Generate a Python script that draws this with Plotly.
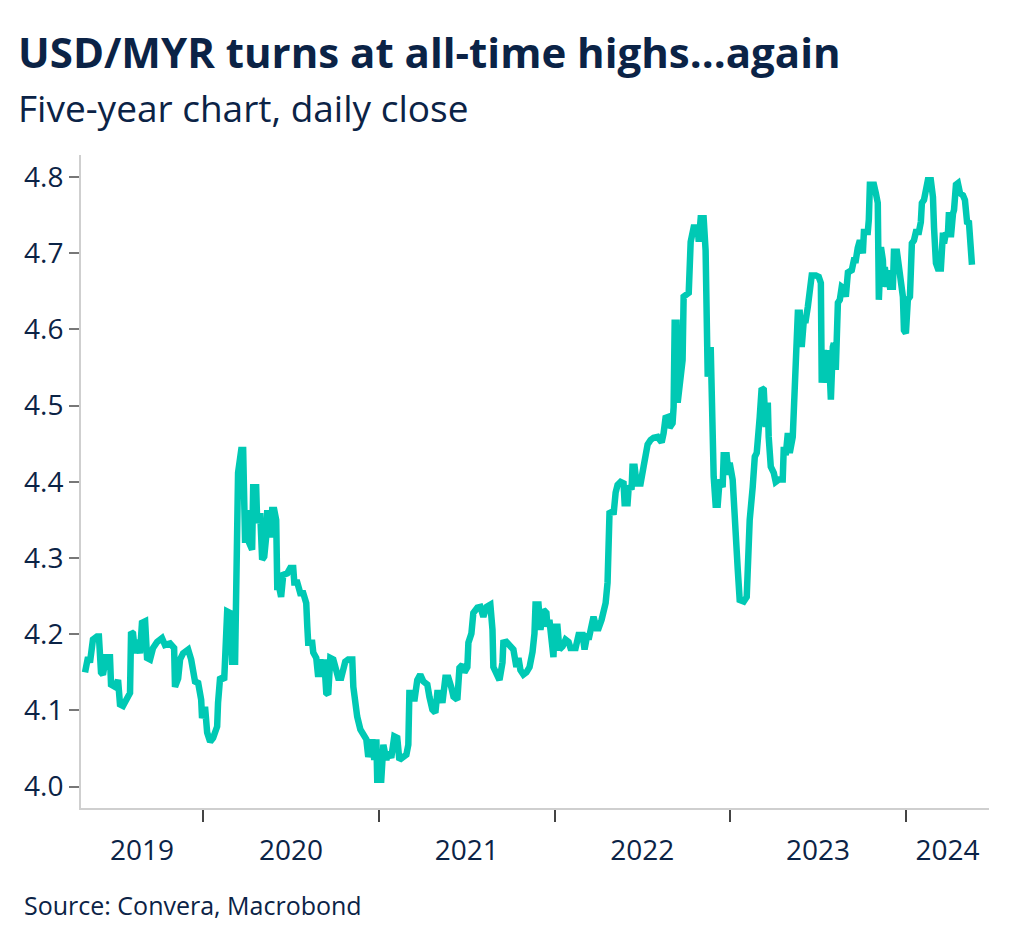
import plotly.graph_objects as go

# USD/MYR daily close (x in decimal years)
years = [
    2019.328, 2019.345, 2019.356, 2019.373, 2019.396, 2019.407, 2019.419, 2019.430, 2019.447, 2019.470,
    2019.476, 2019.499, 2019.516, 2019.527, 2019.544, 2019.567, 2019.584, 2019.590, 2019.601, 2019.613,
    2019.624, 2019.641, 2019.652, 2019.670, 2019.681, 2019.698, 2019.715, 2019.738, 2019.766, 2019.783,
    2019.812, 2019.835, 2019.840, 2019.858, 2019.869, 2019.886, 2019.915, 2019.932, 2019.943, 2019.954,
    2019.972, 2019.989, 2019.994, 2020.011, 2020.023, 2020.040, 2020.057, 2020.080, 2020.085, 2020.097,
    2020.120, 2020.137, 2020.154, 2020.165, 2020.182, 2020.188, 2020.199, 2020.217, 2020.228, 2020.239,
    2020.251, 2020.262, 2020.279, 2020.285, 2020.302, 2020.308, 2020.325, 2020.336, 2020.348, 2020.359,
    2020.365, 2020.382, 2020.393, 2020.405, 2020.416, 2020.422, 2020.433, 2020.444, 2020.456, 2020.479,
    2020.496, 2020.513, 2020.519, 2020.536, 2020.553, 2020.570, 2020.587, 2020.593, 2020.598, 2020.621,
    2020.627, 2020.644, 2020.655, 2020.667, 2020.678, 2020.689, 2020.701, 2020.712, 2020.724, 2020.741,
    2020.758, 2020.769, 2020.786, 2020.798, 2020.809, 2020.826, 2020.849, 2020.855, 2020.866, 2020.877,
    2020.895, 2020.912, 2020.929, 2020.940, 2020.963, 2020.974, 2020.986, 2020.991, 2021.014, 2021.026,
    2021.043, 2021.054, 2021.071, 2021.088, 2021.105, 2021.117, 2021.140, 2021.157, 2021.168, 2021.174,
    2021.197, 2021.202, 2021.219, 2021.236, 2021.254, 2021.276, 2021.288, 2021.305, 2021.322, 2021.333,
    2021.350, 2021.362, 2021.379, 2021.396, 2021.413, 2021.425, 2021.447, 2021.459, 2021.476, 2021.487,
    2021.504, 2021.510, 2021.527, 2021.538, 2021.561, 2021.578, 2021.595, 2021.613, 2021.635, 2021.647,
    2021.652, 2021.670, 2021.687, 2021.704, 2021.709, 2021.726, 2021.738, 2021.755, 2021.766, 2021.783,
    2021.795, 2021.806, 2021.823, 2021.840, 2021.858, 2021.875, 2021.886, 2021.892, 2021.909, 2021.920,
    2021.937, 2021.954, 2021.960, 2021.971, 2021.983, 2021.994, 2022.000, 2022.017, 2022.028, 2022.046,
    2022.063, 2022.080, 2022.091, 2022.120, 2022.137, 2022.160, 2022.171, 2022.188, 2022.194, 2022.211,
    2022.222, 2022.239, 2022.251, 2022.268, 2022.279, 2022.291, 2022.302, 2022.308, 2022.313, 2022.330,
    2022.336, 2022.348, 2022.359, 2022.376, 2022.393, 2022.399, 2022.416, 2022.422, 2022.439, 2022.444,
    2022.456, 2022.467, 2022.490, 2022.507, 2022.519, 2022.530, 2022.547, 2022.564, 2022.587, 2022.610,
    2022.621, 2022.632, 2022.644, 2022.655, 2022.672, 2022.678, 2022.684, 2022.695, 2022.701, 2022.712,
    2022.729, 2022.735, 2022.752, 2022.764, 2022.775, 2022.792, 2022.815, 2022.821, 2022.832, 2022.849,
    2022.860, 2022.866, 2022.872, 2022.889, 2022.895, 2022.900, 2022.906, 2022.917, 2022.929, 2022.940,
    2022.957, 2022.963, 2022.980, 2022.991, 2022.997, 2023.014, 2023.020, 2023.031, 2023.043, 2023.054,
    2023.077, 2023.094, 2023.100, 2023.111, 2023.128, 2023.140, 2023.151, 2023.157, 2023.168, 2023.179,
    2023.191, 2023.202, 2023.214, 2023.219, 2023.231, 2023.248, 2023.259, 2023.276, 2023.299, 2023.305,
    2023.316, 2023.328, 2023.339, 2023.356, 2023.362, 2023.373, 2023.385, 2023.396, 2023.407, 2023.419,
    2023.430, 2023.442, 2023.453, 2023.464, 2023.487, 2023.504, 2023.516, 2023.521, 2023.533, 2023.550,
    2023.561, 2023.573, 2023.584, 2023.590, 2023.601, 2023.613, 2023.624, 2023.635, 2023.647, 2023.658,
    2023.670, 2023.692, 2023.704, 2023.715, 2023.726, 2023.738, 2023.755, 2023.761, 2023.783, 2023.789,
    2023.795, 2023.818, 2023.829, 2023.840, 2023.846, 2023.858, 2023.869, 2023.875, 2023.880, 2023.892,
    2023.897, 2023.909, 2023.926, 2023.932, 2023.949, 2023.960, 2023.972, 2023.983, 2023.989, 2024.000,
    2024.011, 2024.023, 2024.034, 2024.046, 2024.057, 2024.074, 2024.085, 2024.091, 2024.103, 2024.114,
    2024.125, 2024.142, 2024.154, 2024.160, 2024.171, 2024.182, 2024.199, 2024.211, 2024.217, 2024.228,
    2024.239, 2024.245, 2024.256, 2024.268, 2024.274, 2024.285, 2024.296, 2024.308, 2024.325, 2024.336,
    2024.348, 2024.359, 2024.370, 2024.376,
]
usdmyr = [
    4.150, 4.170, 4.163, 4.193, 4.197, 4.197, 4.150, 4.147, 4.170, 4.170,
    4.134, 4.131, 4.140, 4.108, 4.106, 4.114, 4.123, 4.203, 4.201, 4.175,
    4.193, 4.175, 4.215, 4.217, 4.169, 4.167, 4.182, 4.190, 4.195, 4.186,
    4.188, 4.182, 4.131, 4.142, 4.167, 4.175, 4.180, 4.167, 4.154, 4.138,
    4.136, 4.114, 4.090, 4.105, 4.071, 4.059, 4.064, 4.079, 4.110, 4.144,
    4.140, 4.230, 4.228, 4.164, 4.164, 4.280, 4.412, 4.442, 4.442, 4.320,
    4.363, 4.320, 4.311, 4.393, 4.393, 4.346, 4.359, 4.298, 4.302, 4.328,
    4.363, 4.327, 4.363, 4.363, 4.350, 4.262, 4.262, 4.249, 4.278, 4.280,
    4.287, 4.287, 4.268, 4.268, 4.254, 4.254, 4.241, 4.210, 4.189, 4.189,
    4.176, 4.169, 4.144, 4.167, 4.144, 4.167, 4.123, 4.121, 4.169, 4.167,
    4.156, 4.143, 4.143, 4.154, 4.164, 4.167, 4.167, 4.131, 4.110, 4.092,
    4.075, 4.066, 4.062, 4.039, 4.062, 4.035, 4.062, 4.009, 4.009, 4.055,
    4.035, 4.046, 4.038, 4.066, 4.064, 4.035, 4.039, 4.042, 4.055, 4.123,
    4.123, 4.112, 4.140, 4.147, 4.138, 4.134, 4.118, 4.101, 4.097, 4.123,
    4.123, 4.110, 4.143, 4.143, 4.130, 4.118, 4.114, 4.156, 4.160, 4.150,
    4.157, 4.189, 4.201, 4.228, 4.235, 4.236, 4.223, 4.236, 4.239, 4.206,
    4.157, 4.150, 4.140, 4.163, 4.189, 4.190, 4.186, 4.182, 4.180, 4.157,
    4.169, 4.153, 4.147, 4.150, 4.157, 4.177, 4.201, 4.239, 4.239, 4.206,
    4.232, 4.228, 4.210, 4.219, 4.180, 4.170, 4.210, 4.210, 4.180, 4.184,
    4.193, 4.190, 4.182, 4.182, 4.199, 4.199, 4.180, 4.201, 4.193, 4.217,
    4.223, 4.208, 4.208, 4.219, 4.228, 4.241, 4.268, 4.320, 4.359, 4.361,
    4.357, 4.386, 4.396, 4.400, 4.398, 4.372, 4.372, 4.392, 4.393, 4.420,
    4.420, 4.398, 4.398, 4.420, 4.433, 4.449, 4.455, 4.458, 4.459, 4.452,
    4.464, 4.484, 4.485, 4.471, 4.477, 4.498, 4.609, 4.609, 4.504, 4.534,
    4.560, 4.643, 4.645, 4.648, 4.715, 4.734, 4.734, 4.715, 4.746, 4.746,
    4.704, 4.577, 4.538, 4.577, 4.508, 4.481, 4.407, 4.370, 4.370, 4.403,
    4.393, 4.435, 4.435, 4.409, 4.425, 4.403, 4.372, 4.320, 4.285, 4.245,
    4.243, 4.249, 4.298, 4.350, 4.393, 4.433, 4.438, 4.472, 4.485, 4.523,
    4.521, 4.472, 4.504, 4.459, 4.420, 4.412, 4.400, 4.403, 4.403, 4.446,
    4.435, 4.464, 4.438, 4.459, 4.497, 4.538, 4.622, 4.622, 4.577, 4.612,
    4.612, 4.630, 4.648, 4.671, 4.671, 4.669, 4.661, 4.530, 4.573, 4.530,
    4.573, 4.508, 4.577, 4.582, 4.547, 4.635, 4.639, 4.656, 4.654, 4.643,
    4.675, 4.678, 4.691, 4.691, 4.707, 4.717, 4.700, 4.728, 4.728, 4.744,
    4.790, 4.790, 4.779, 4.766, 4.639, 4.708, 4.691, 4.656, 4.682, 4.656,
    4.678, 4.656, 4.656, 4.702, 4.702, 4.678, 4.648, 4.643, 4.599, 4.595,
    4.639, 4.643, 4.713, 4.717, 4.728, 4.728, 4.741, 4.766, 4.770, 4.783,
    4.796, 4.796, 4.774, 4.734, 4.687, 4.680, 4.680, 4.727, 4.713, 4.727,
    4.724, 4.754, 4.721, 4.752, 4.757, 4.790, 4.792, 4.779, 4.776, 4.770,
    4.741, 4.740, 4.717, 4.685,
]

year_labels = ["2019", "2020", "2021", "2022", "2023", "2024"]
year_starts = [2020, 2021, 2022, 2023, 2024]
y_ticks = [4.0, 4.1, 4.2, 4.3, 4.4, 4.5, 4.6, 4.7, 4.8]

x_range = [2019.305, 2024.473]
y_range = [3.972, 4.829]

# centre each year label inside the visible part of that year
edges = [x_range[0]] + year_starts + [x_range[1]]
label_pos = [(edges[i] + edges[i + 1]) / 2 for i in range(len(year_labels))]

navy = "#0b2346"
teal = "#00c9b4"
font = "Open Sans"

fig = go.Figure(go.Scatter(
    x=years,
    y=usdmyr,
    mode="lines",
    line=dict(color=teal, width=6.5),
    showlegend=False,
))

# the page adds an 8px body margin, so the figure is 8px smaller than the window
fig.update_layout(
    width=1016,
    height=937,
    paper_bgcolor="white",
    plot_bgcolor="white",
    margin=dict(l=73, r=35, t=147, b=137),
    font=dict(family=font, color=navy),
    xaxis=dict(
        range=x_range,
        automargin=False,
        showgrid=False,
        zeroline=False,
        showline=True,
        linecolor="#cfcfcf",
        linewidth=2,
        tickmode="array",
        tickvals=label_pos,
        ticktext=year_labels,
        ticks="",
        ticklabelstandoff=16,
        tickfont=dict(size=28, color=navy),
        minor=dict(tickmode="array", tickvals=year_starts, ticks="outside",
                   ticklen=12, tickwidth=2, tickcolor="#444444", showgrid=False),
    ),
    yaxis=dict(
        range=y_range,
        automargin=False,
        showgrid=False,
        zeroline=False,
        showline=True,
        linecolor="#cfcfcf",
        linewidth=2,
        tickmode="array",
        tickvals=y_ticks,
        tickformat=".1f",
        ticks="outside",
        ticklen=10,
        tickwidth=2,
        tickcolor="#777777",
        tickfont=dict(size=28, color=navy),
    ),
    annotations=[
        dict(text="<b>USD/MYR turns at all-time highs...again</b>", xref="paper", yref="paper",
             x=-0.0717, y=1.158, xanchor="left", yanchor="middle", showarrow=False,
             font=dict(size=42, color=navy, family=font)),
        dict(text="Five-year chart, daily close", xref="paper", yref="paper",
             x=-0.0717, y=1.072, xanchor="left", yanchor="middle", showarrow=False,
             font=dict(size=37, color=navy, family=font)),
        dict(text="Source: Convera, Macrobond", xref="paper", yref="paper",
             x=-0.065, y=-0.1485, xanchor="left", yanchor="middle", showarrow=False,
             font=dict(size=25, color=navy, family=font)),
    ],
)

fig.write_html("out.html")
